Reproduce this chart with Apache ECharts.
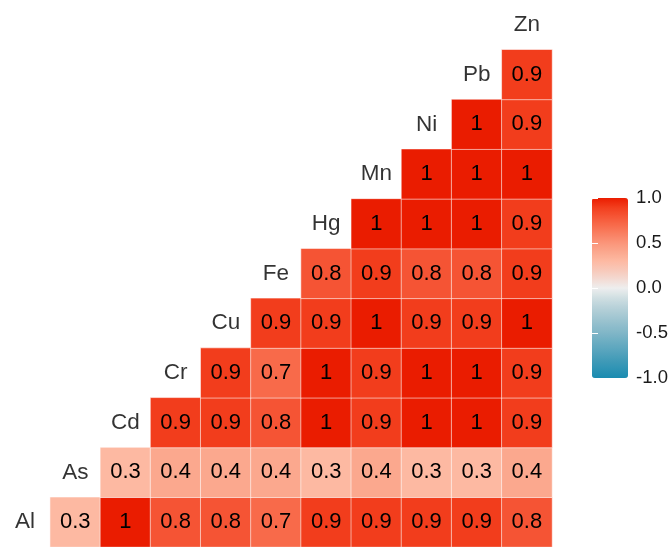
<!DOCTYPE html>
<html>
<head>
<meta charset="utf-8">
<script src="https://cdn.jsdelivr.net/npm/echarts@6/dist/echarts.min.js"></script>
<style>
html, body { margin: 0; padding: 0; background: #fff; }
#main { width: 671px; height: 547px; }
</style>
</head>
<body>
<div id="main"></div>
<script>
"use strict";
// variables, in order from bottom-left to top-right
let elements = ['Al', 'As', 'Cd', 'Cr', 'Cu', 'Fe', 'Hg', 'Mn', 'Ni', 'Pb', 'Zn'];
// row i holds correlations of elements[i] with elements[i+1..]
let rowAl = [0.3, 1, 0.8, 0.8, 0.7, 0.9, 0.9, 0.9, 0.9, 0.8];
let rowAs = [0.3, 0.4, 0.4, 0.4, 0.3, 0.4, 0.3, 0.3, 0.4];
let rowCd = [0.9, 0.9, 0.8, 1, 0.9, 1, 1, 0.9];
let rowCr = [0.9, 0.7, 1, 0.9, 1, 1, 0.9];
let rowCu = [0.9, 0.9, 1, 0.9, 0.9, 1];
let rowFe = [0.8, 0.9, 0.8, 0.8, 0.9];
let rowHg = [1, 1, 1, 0.9];
let rowMn = [1, 1, 1];
let rowNi = [1, 0.9];
let rowPb = [0.9];
let legendTicks = [1.0, 0.5, 0.0, -0.5, -1.0];

let rows = [rowAl, rowAs, rowCd, rowCr, rowCu, rowFe, rowHg, rowMn, rowNi, rowPb];
let cells = [];
for (let i = 0; i < rows.length; i++) {
    for (let k = 0; k < rows[i].length; k++) {
        cells.push([i + 1 + k, i, rows[i][k]]);
    }
}
let diag = [];
for (let i = 0; i < elements.length; i++) {
    diag.push([i, i]);
}

const FONT = "'Liberation Sans', Arial, sans-serif";
// gradient stops every 0.1 from -1 to 1 (blue - grey - red)
let palette = [
    '#1a8cb0', '#2e93b4', '#429bb8', '#57a4bd', '#6badc2', '#80b6c7', '#93bfcd', '#a7c9d3', '#bbd3da', '#d2e0e3',
    '#eeeeee',
    '#f3dad2', '#f8c8b9', '#fdb9a2', '#fba88e', '#fb957a', '#f98062', '#f86a4a', '#f55434', '#f23d1c', '#ea1c00'
];
let myChart = echarts.init(document.getElementById('main'), null, { renderer: 'canvas' });

let option = {
    animation: false,
    backgroundColor: '#ffffff',
    grid: [
        { left: -3.5, top: -2.8, width: 555.5, height: 556 },
        { left: 592, top: 198, width: 36, height: 180 }
    ],
    xAxis: [
        { type: 'category', data: elements, gridIndex: 0, show: false },
        { type: 'value', gridIndex: 1, show: false }
    ],
    yAxis: [
        { type: 'category', data: elements, gridIndex: 0, show: false },
        {
            type: 'value', gridIndex: 1, position: 'right', min: legendTicks[4], max: legendTicks[0], interval: 0.5, z: 10,
            axisLine: { show: false },
            splitLine: { show: false },
            axisTick: { show: true, inside: true, length: 6, lineStyle: { color: '#ffffff', width: 1 } },
            axisLabel: {
                margin: 9, fontSize: 18.5, color: '#1a1a1a', fontFamily: FONT,
                formatter: function (v) { return v.toFixed(1); }
            }
        },
        {
            type: 'value', gridIndex: 1, position: 'left', min: -1, max: 1, interval: 0.5, z: 10,
            axisLine: { show: false },
            splitLine: { show: false },
            axisLabel: { show: false },
            axisTick: { show: true, inside: true, length: 6, lineStyle: { color: '#ffffff', width: 1 } }
        }
    ],
    visualMap: {
        type: 'continuous',
        seriesIndex: 0,
        min: -1,
        max: 1,
        calculable: false,
        realtime: false,
        orient: 'vertical',
        left: 592,
        top: 198,
        padding: 0,
        itemWidth: 36,
        itemHeight: 180,
        text: ['', ''],
        showLabel: false,
        inRange: { color: palette }
    },
    series: [
        {
            type: 'heatmap',
            xAxisIndex: 0,
            yAxisIndex: 0,
            data: cells,
            itemStyle: { borderColor: 'rgba(255,255,255,0.55)', borderWidth: 1 },
            label: {
                show: true, fontSize: 22, color: '#000000', fontFamily: FONT,
                formatter: function (p) { return String(p.value[2]); }
            },
            emphasis: { disabled: true }
        },
        {
            type: 'scatter',
            xAxisIndex: 0,
            yAxisIndex: 0,
            data: diag,
            symbolSize: 0,
            label: {
                show: true, position: 'inside', fontSize: 22.5, color: '#000000', fontFamily: FONT,
                formatter: function (p) { return elements[p.value[0]]; }
            },
            silent: true
        }
    ]
};
myChart.setOption(option);
</script>
</body>
</html>
